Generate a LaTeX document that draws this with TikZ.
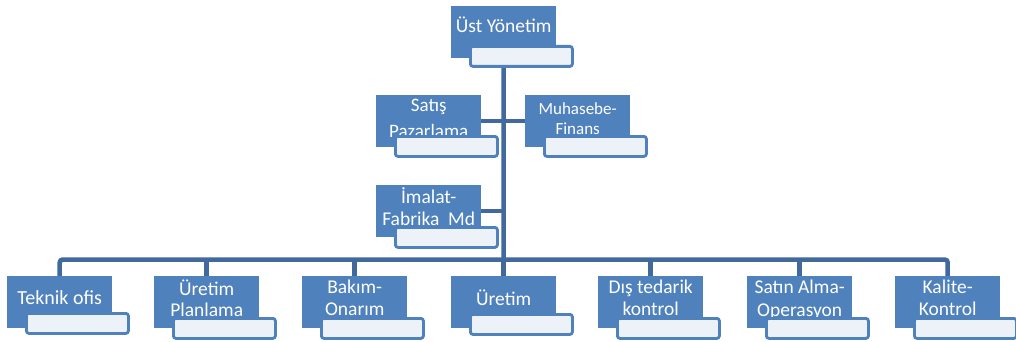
\documentclass[tikz,border=0pt]{standalone}
\usepackage{fontspec}
\newfontfamily\boxfont{Carlito}
\usetikzlibrary{backgrounds}
\definecolor{boxblue}{HTML}{4F81BD}
\definecolor{linkblue}{HTML}{41699E}
\definecolor{tagfill}{HTML}{EDF2F9}
\tikzset{
  bluebox/.style={fill=boxblue, minimum width=105pt, minimum height=52pt,
    inner sep=0pt, anchor=north west},
  boxtext/.style={text=white, inner sep=0pt, anchor=base},
  tagbox/.style={draw=boxblue, line width=2.8pt, fill=tagfill, rounded corners=2.5pt,
    minimum width=102pt, minimum height=20pt, inner sep=0pt, anchor=north west},
  link/.style={draw=linkblue, line width=4.5pt},
}
% one unit: name, left, top, drop of the tag, drop of the first baseline,
% font size, line spacing, label lines
\newcommand\orgunit[8]{%
  \node[bluebox] (#1) at (#2,#3) {};
  \node[boxtext, font=\boxfont\fontsize{#6}{#7}\selectfont] (#1-text)
    at ([yshift=-#5pt]#1.north) {\begin{tabular}[t]{@{}c@{}}#8\end{tabular}};
  \node[tagbox] (#1-tag) at ([xshift=18pt,yshift=-#4pt]#1.north west) {};
}
\begin{document}
\begin{tikzpicture}[x=1pt,y=-1pt]
\useasboundingbox (0,0) rectangle (1016,342);

\orgunit{top}{451}{6}{39}{27}{19.5}{22}{Üst Yönetim}
\orgunit{sales}{376}{95}{40}{16}{19}{26}{Satış\\Pazarlama}
\orgunit{finance}{525}{95}{40}{19}{17}{20.5}{Muhasebe-\\Finans}
\orgunit{plant}{376}{185}{41}{18}{19.5}{22.5}{İmalat-\\Fabrika\ \ Md}

\orgunit{u1}{7}{276}{36}{28}{20}{22}{Teknik ofis}
\orgunit{u2}{154}{276}{41}{19}{19.5}{21.5}{Üretim\\Planlama}
\orgunit{u3}{302}{276}{41}{17}{19.5}{22}{Bakım-\\Onarım}
\orgunit{u4}{451}{276}{37}{29}{19.5}{22}{Üretim}
\orgunit{u5}{598}{276}{41}{17}{19.5}{22}{Dış tedarik\\kontrol}
\orgunit{u6}{747}{276}{41}{17}{19.5}{23.5}{Satın Alma-\\Operasyon}
\orgunit{u7}{895}{276}{41}{17}{19.5}{22}{Kalite-\\Kontrol}

\coordinate (bus) at (503.5,259.5);

\begin{scope}[on background layer]
  \draw[link] (top.center) -- (bus);
  \draw[link] (sales.east) -- (finance.west);
  \draw[link] (plant.east) -- (plant.east -| top.center);
  \draw[link, rounded corners=3pt] (u1.north) |- (bus) -| (u7.north);
  \foreach \u in {u2,u3,u4,u5,u6}
    \draw[link] (bus -| \u.north) -- (\u.north);
\end{scope}
\end{tikzpicture}
\end{document}
